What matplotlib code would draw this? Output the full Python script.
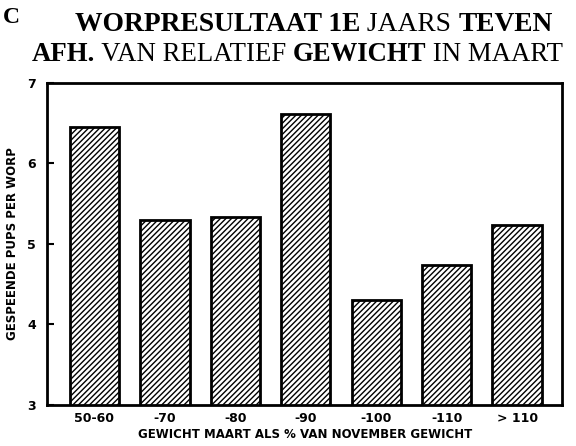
import numpy as np
import matplotlib.pyplot as plt

categories = ["50-60", "-70", "-80", "-90", "-100", "-110", "> 110"]
pups = [6.45, 5.30, 5.34, 6.61, 4.30, 4.74, 5.24]

plt.rcParams['hatch.linewidth'] = 1.0

fig = plt.figure(figsize=(5.76, 4.46), dpi=100)
ax = fig.add_axes([0.082, 0.092, 0.894, 0.722])

x = np.arange(len(categories))
ax.bar(x, pups, width=0.7, bottom=0, color="white", edgecolor="black",
       linewidth=2, hatch="//////")
ax.set_xlim(-0.67, 6.64)
ax.set_ylim(3, 7)
ax.set_yticks([3, 4, 5, 6, 7])
ax.set_xticks(x)
ax.set_xticklabels(categories)
for s in ax.spines.values():
    s.set_linewidth(2)
ax.tick_params(axis="y", direction="in", length=5, width=1.5, pad=8)
ax.tick_params(axis="x", length=0, pad=5)
for lab in ax.get_xticklabels() + ax.get_yticklabels():
    lab.set_fontweight("bold")
    lab.set_fontsize(9)

ax.set_ylabel("GESPEENDE PUPS PER WORP", fontsize=8.5, fontweight="bold", labelpad=6)
ax.set_xlabel("GEWICHT MAART ALS % VAN NOVEMBER GEWICHT", fontsize=8.5,
              fontweight="bold", labelpad=2)

# title, mix of bold and regular serif pieces
serif = "Liberation Serif"
fig.text(0.005, 0.985, "C", fontsize=17, fontweight="bold", family=serif, va="top")

def title_line(x0, y0, parts, size):
    t = fig.text(x0, y0, parts[0][0], fontsize=size, family=serif,
                 fontweight=parts[0][1], va="baseline")
    for txt, w in parts[1:]:
        t = ax.annotate(txt, xy=(1, 0), xycoords=t, fontsize=size, family=serif,
                        fontweight=w, va="bottom", annotation_clip=False)
    return t

title_line(0.13, 0.93, [("WORPRESULTAAT 1E", "bold"), (" JAARS ", "normal"),
                        ("TEVEN", "bold")], 19.8)
title_line(0.055, 0.863, [("AFH.", "bold"), (" VAN RELATIEF ", "normal"),
                          ("GEWICHT", "bold"), (" IN MAART", "normal")], 19.3)

plt.savefig("out.png", dpi=100)
